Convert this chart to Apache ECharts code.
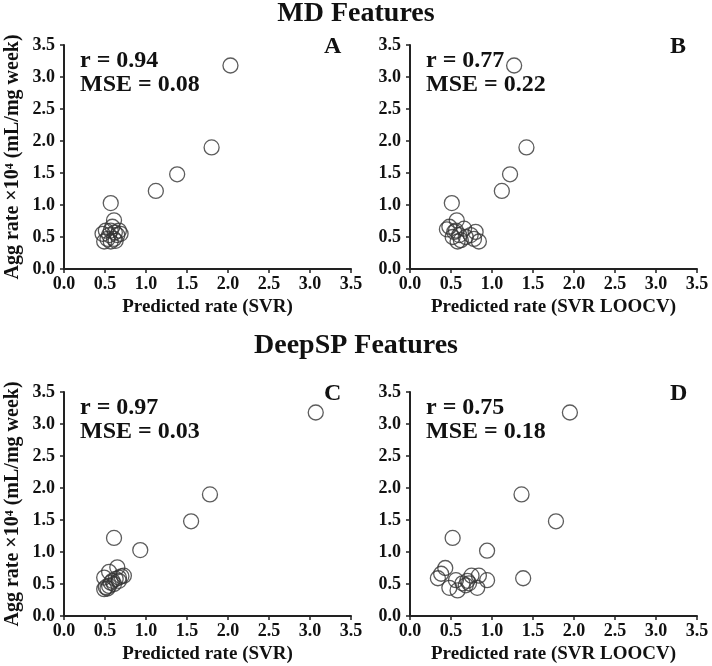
<!DOCTYPE html>
<html>
<head>
<meta charset="utf-8">
<script src="https://cdn.jsdelivr.net/npm/echarts@6/dist/echarts.min.js"></script>
<style>html,body{margin:0;padding:0;background:#fff}#c{width:712px;height:666px}</style>
</head>
<body>
<div id="c"></div>
<script>
// ---- data ----
const tickLabels = ['0.0','0.5','1.0','1.5','2.0','2.5','3.0','3.5'];
const mdSvr = [[2.03,3.18],[1.80,1.90],[1.38,1.48],[1.12,1.22],[0.57,1.03],[0.61,0.76],[0.51,0.60],[0.59,0.66],[0.67,0.60],[0.55,0.53],[0.65,0.53],[0.49,0.43],[0.57,0.43],[0.61,0.47],[0.69,0.55],[0.53,0.47],[0.47,0.55],[0.63,0.44],[0.57,0.60],[0.62,0.57]];
const mdLoocv = [[1.27,3.18],[1.42,1.90],[1.22,1.48],[1.12,1.22],[0.51,1.03],[0.57,0.76],[0.48,0.66],[0.66,0.63],[0.80,0.58],[0.54,0.58],[0.60,0.53],[0.74,0.53],[0.68,0.50],[0.78,0.47],[0.84,0.43],[0.58,0.43],[0.52,0.50],[0.62,0.45],[0.45,0.62],[0.56,0.60]];
const spSvr = [[3.07,3.18],[1.78,1.90],[1.55,1.48],[0.61,1.22],[0.93,1.03],[0.65,0.76],[0.55,0.69],[0.49,0.60],[0.73,0.63],[0.67,0.60],[0.59,0.55],[0.51,0.45],[0.55,0.47],[0.61,0.50],[0.67,0.55],[0.49,0.42],[0.53,0.43],[0.57,0.52],[0.63,0.58],[0.70,0.62]];
const spLoocv = [[1.95,3.18],[1.36,1.90],[1.78,1.48],[0.52,1.22],[0.94,1.02],[0.43,0.75],[0.38,0.66],[0.34,0.59],[1.38,0.59],[0.94,0.56],[0.84,0.63],[0.75,0.63],[0.56,0.56],[0.70,0.55],[0.68,0.48],[0.48,0.44],[0.58,0.40],[0.82,0.44],[0.72,0.51],[0.64,0.51]];
const panelSets = [mdSvr, mdLoocv, spSvr, spLoocv];
const stats = [['r = 0.94','MSE = 0.08'],['r = 0.77','MSE = 0.22'],['r = 0.97','MSE = 0.03'],['r = 0.75','MSE = 0.18']];
const letters = ['A','B','C','D'];
const xTitles = ['Predicted rate (SVR)','Predicted rate (SVR LOOCV)','Predicted rate (SVR)','Predicted rate (SVR LOOCV)'];
const yTitle = 'Agg rate \u00d710\u2074 (mL/mg week)';
const sectionTitles = ['MD Features','DeepSP Features'];

// ---- layout ----
const FONT = '"Liberation Serif", "Times New Roman", serif';
const grids = [
  {left:64, top:45, width:287, height:224},
  {left:410, top:45, width:287, height:224},
  {left:64, top:392, width:287, height:224},
  {left:410, top:392, width:287, height:224}
];
const axisCommon = (i, isX) => ({
  gridIndex:i, type:'value', min:0, max:3.5, interval:0.5,
  axisLine:{show:true, onZero:false, lineStyle:{color:'#222', width:2}},
  axisTick:{show:true, length:4, lineStyle:{color:'#222', width:1.5}},
  splitLine:{show:false},
  axisLabel:{fontFamily:FONT, fontWeight:'bold', fontSize:18, color:'#111', margin:isX?6:9,
    formatter:(v)=>tickLabels[Math.round(v/0.5)]},
});
const xAxes = grids.map((g,i)=>Object.assign(axisCommon(i,true),{
  name:xTitles[i], nameLocation:'middle', nameGap:29,
  nameTextStyle:{fontFamily:FONT, fontWeight:'bold', fontSize:19, color:'#111'}
}));
const yAxes = grids.map((g,i)=>Object.assign(axisCommon(i,false),{
  name:(i%2===0)?yTitle:'', nameLocation:'middle', nameGap:41,
  nameTextStyle:{fontFamily:FONT, fontWeight:'bold', fontSize:20, color:'#111'}
}));
const series = panelSets.map((d,i)=>({
  type:'scatter', xAxisIndex:i, yAxisIndex:i, data:d, symbol:'circle', symbolSize:15,
  itemStyle:{color:'rgba(0,0,0,0)', borderColor:'#333', borderWidth:1.3},
  emphasis:{disabled:true}, animation:false
}));
const graphics = [];
grids.forEach((g,i)=>{
  graphics.push({type:'text', left:g.left+16, top:g.top+4, style:{text:stats[i][0]+'\n'+stats[i][1], font:'bold 24px '+FONT, fill:'#111', lineHeight:24}});
  graphics.push({type:'text', left:g.left+260, top:g.top-10, style:{text:letters[i], font:'bold 24px '+FONT, fill:'#111'}});
});
const titles = [
  {text:sectionTitles[0], left:'center', top:0, padding:0, textStyle:{fontFamily:FONT, fontWeight:'bold', fontSize:28, color:'#111'}},
  {text:sectionTitles[1], left:'center', top:332, padding:0, textStyle:{fontFamily:FONT, fontWeight:'bold', fontSize:28, color:'#111'}}
];
const chart = echarts.init(document.getElementById('c'));
chart.setOption({
  backgroundColor:'#fff', animation:false,
  title:titles, grid:grids, xAxis:xAxes, yAxis:yAxes, series:series, graphic:graphics
});
</script>
</body>
</html>
